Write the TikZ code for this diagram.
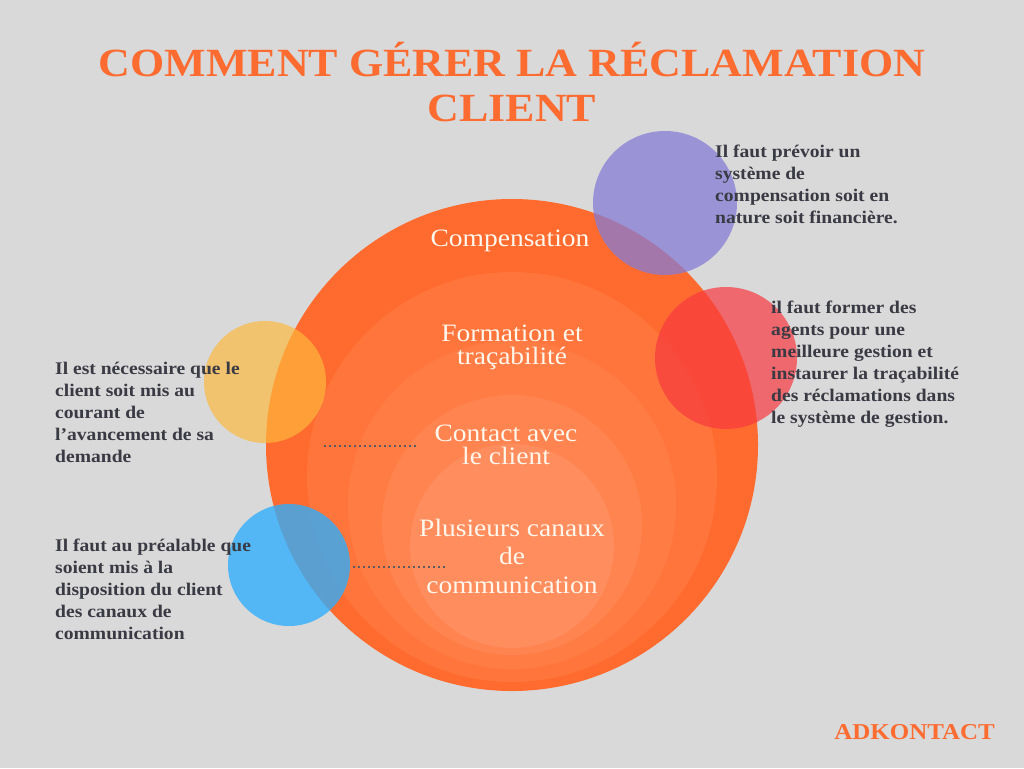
\documentclass[tikz,border=0pt]{standalone}
\usepackage{fontspec}
\newfontfamily\bask{Liberation Serif}[FakeStretch=1.1]
\definecolor{bg}{RGB}{217,217,217}
\definecolor{ttl}{RGB}{252,107,48}
\definecolor{rA}{RGB}{255,107,46}
\definecolor{rB}{RGB}{255,117,59}
\definecolor{rC}{RGB}{255,124,69}
\definecolor{rD}{RGB}{255,132,80}
\definecolor{rE}{RGB}{255,141,94}
\definecolor{purp}{RGB}{133,124,214}
\definecolor{redc}{RGB}{247,57,64}
\definecolor{yelc}{RGB}{254,185,60}
\definecolor{bluc}{RGB}{46,174,252}
\definecolor{txt}{RGB}{58,58,68}
\definecolor{cream}{RGB}{255,246,236}
\definecolor{dotc}{RGB}{95,90,95}
\tikzset{
  ring/.style={circle, inner sep=0pt, draw=none, minimum size=#1},
  bubble/.style={circle, inner sep=0pt, draw=none, minimum size=#1},
  desc/.style={inner sep=0pt, align=left, text=txt, anchor=base west,
    font=\bask\bfseries\fontsize{17.8}{22}\selectfont},
  lbl/.style={inner sep=0pt, align=center, text=cream, anchor=base,
    font=\bask\fontsize{25}{23}\selectfont},
  dotline/.style={draw=dotc, line width=1.5pt, dash pattern=on 1.5pt off 3.5pt}
}
\begin{document}
\begin{tikzpicture}[x=1pt,y=-1pt]
\useasboundingbox (0,0) rectangle (1024,768);
\fill[bg] (0,0) rectangle (1024,768);

% concentric rings
\node[ring=492pt, fill=rA] (ringA) at (512,445) {};
\node[ring=410pt, fill=rB] (ringB) at (512,477) {};
\node[ring=328pt, fill=rC] (ringC) at (512,505) {};
\node[ring=260pt, fill=rD] (ringD) at (512,525) {};
\node[ring=204pt, fill=rE] (ringE) at (512,546) {};

% bubbles
\node[bubble=144pt, fill=purp, fill opacity=0.74] (purple) at (665,203) {};
\node[bubble=142pt, fill=redc, fill opacity=0.70] (red) at (726,358) {};
\node[bubble=122pt, fill=yelc, fill opacity=0.68] (yellow) at (265,382) {};
\node[bubble=122pt, fill=bluc, fill opacity=0.79] (blue) at (289,565) {};

% title (base anchor = last line)
\node[inner sep=0pt, align=center, text=ttl, anchor=base,
  font=\bask\bfseries\fontsize{40}{44}\selectfont] (title) at (512,121)
  {COMMENT GÉRER LA RÉCLAMATION\\CLIENT};

% circle labels (base anchor = last line)
\node[lbl] (compensation) at (510,246) {Compensation};
\node[lbl] (formation) at (512,364) {Formation et\\traçabilité};
\node[lbl] (contact) at (506,464) {Contact avec\\le client};
\node[lbl, font=\bask\fontsize{25}{28.5}\selectfont] (canaux) at (512,593)
  {Plusieurs canaux\\de\\communication};

% descriptions (base anchor = last line)
\node[desc] (descA) at (715,223) {Il faut prévoir un\\système de\\compensation soit en\\nature soit financière.};
\node[desc] (descB) at (771,423) {il faut former des\\agents pour une\\meilleure gestion et\\instaurer la traçabilité\\des réclamations dans\\le système de gestion.};
\node[desc] (descC) at (55,462) {Il est nécessaire que le\\client soit mis au\\courant de\\l’avancement de sa\\demande};
\node[desc] (descD) at (55,639) {Il faut au préalable que\\soient mis à la\\disposition du client\\des canaux de\\communication};

% dotted connectors
\coordinate (dotAs) at (324,446);
\coordinate (dotAe) at (419,446);
\coordinate (dotBs) at (353,567);
\coordinate (dotBe) at (448,567);
\draw[dotline] (dotAs) -- (dotAe);
\draw[dotline] (dotBs) -- (dotBe);

% brand
\node[inner sep=0pt, anchor=base east, text=ttl,
  font=\bask\bfseries\fontsize{22.7}{24}\selectfont] (brand) at (995,739) {ADKONTACT};
\end{tikzpicture}
\end{document}
